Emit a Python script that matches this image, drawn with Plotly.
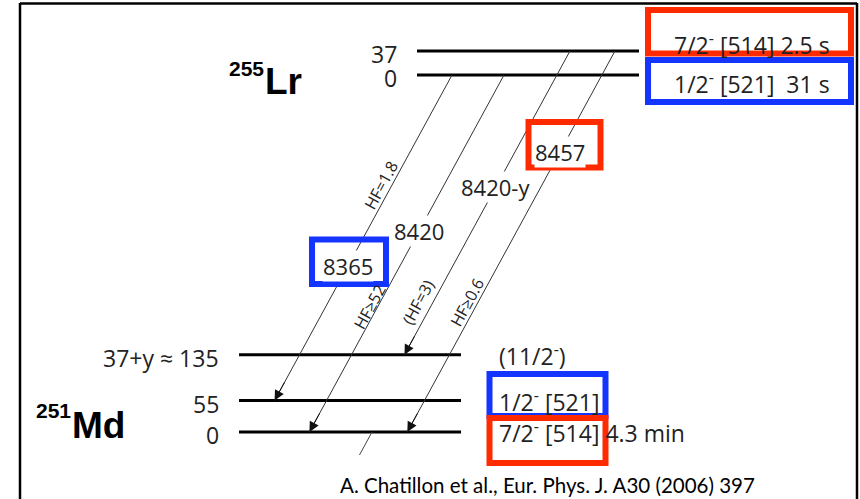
import plotly.graph_objects as go

# ---------------- data ----------------
lr_energies = [0, 37]                       # keV, 255Lr levels
lr_level_labels = ["0", "37"]
lr_spins = ["1/2<sup>-</sup> [521]\u00a0\u00a031 s", "7/2<sup>-</sup> [514] 2.5 s"]

md_energies = [0, 55, 135]                  # keV, 251Md levels
md_level_labels = ["0", "55", "37+y ≈ 135"]
md_spins = ["7/2<sup>-</sup> [514] 4.3 min", "1/2<sup>-</sup> [521]", "(11/2<sup>-</sup>)"]

alpha_from = [0, 0, 1, 1]                   # index into lr levels
alpha_to = [1, 0, 2, 0]                     # index into md levels
alpha_energies = ["8365", "8420", "8420-y", "8457"]
hindrance = ["HF=1.8", "HF≥52", "(HF=3)", "HF≥0.6"]
citation = "A. Chatillon et al., Eur. Phys. J. A30 (2006) 397"

# ---------------- layout constants (pixel canvas) ----------------
W, H = 860, 499
SLOPE = 0.545                                # dx per dy of alpha lines
LR_BASE, LR_SCALE = 75, 0.65
MD_BASE, MD_SCALE = 432, 0.5725
LR_X = (417, 639)
MD_X = (239, 461)
alpha_x0 = [452, 504, 570, 615]              # start x on the Lr level
label_y = [266, 231, 187, 152]               # y of energy label on each line
hf_y = [185, 307, 302, 302]                  # y of HF label
hf_off = [11, 8, 15, 11]                     # left offset of HF label
RED = "#ff2a00"
BLUE = "#1434ff"
TXT = "#222222"
LFONT = "Open Sans"
FS = 23


def y_lr(e):
    return LR_BASE - LR_SCALE * e


def y_md(e):
    return MD_BASE - MD_SCALE * e


def x_on(i, y):
    y0 = y_lr(lr_energies[alpha_from[i]])
    return alpha_x0[i] - SLOPE * (y - y0)


fig = go.Figure()

# level lines
for e in lr_energies:
    fig.add_trace(go.Scatter(x=list(LR_X), y=[y_lr(e)] * 2, mode="lines",
                             line=dict(color="black", width=3), hoverinfo="skip"))
for e in md_energies:
    fig.add_trace(go.Scatter(x=list(MD_X), y=[y_md(e)] * 2, mode="lines",
                             line=dict(color="black", width=3), hoverinfo="skip"))

# stub continuing below the 251Md ground state
stub_y = [y_md(md_energies[0]), y_md(md_energies[0]) + 23]
fig.add_trace(go.Scatter(x=[372, 372 - SLOPE * 23], y=stub_y, mode="lines",
                         line=dict(color="#444", width=1), hoverinfo="skip"))

annos = []

# alpha transitions: line trace + arrowhead annotation at the end
for i in range(len(alpha_from)):
    ys = y_lr(lr_energies[alpha_from[i]])
    ye = y_md(md_energies[alpha_to[i]])
    xe = x_on(i, ye)
    fig.add_trace(go.Scatter(
        x=[alpha_x0[i], xe], y=[ys, ye], mode="lines",
        line=dict(color="#333", width=1), hoverinfo="skip"))
    annos.append(dict(x=xe, y=ye, ax=x_on(i, ye - 20), ay=ye - 20,
                      xref="x", yref="y", axref="x", ayref="y", text="",
                      showarrow=True, arrowhead=2, arrowsize=2.0, arrowwidth=1,
                      arrowcolor="#111", standoff=0))

# shapes: frame and coloured boxes
shapes = [
    dict(type="line", x0=20, y0=3, x1=20, y1=H, line=dict(color="black", width=2.5)),
    dict(type="line", x0=20, y0=3.5, x1=857, y1=3.5, line=dict(color="black", width=2.5)),
    dict(type="line", x0=857, y0=3, x1=857, y1=H, line=dict(color="black", width=2.5)),
    # top right
    dict(type="rect", x0=648, x1=851, y0=10, y1=53.5, line=dict(color=RED, width=6)),
    dict(type="rect", x0=648, x1=851, y0=60, y1=102, line=dict(color=BLUE, width=6)),
    # energy boxes
    dict(type="rect", x0=528.5, x1=600.5, y0=122, y1=167.5, line=dict(color=RED, width=6)),
    dict(type="rect", x0=312, x1=386, y0=239.5, y1=284, line=dict(color=BLUE, width=6)),
    # Md boxes
    dict(type="rect", x0=489.5, x1=605.5, y0=374, y1=416, line=dict(color=BLUE, width=6)),
    dict(type="rect", x0=489.5, x1=605.5, y0=418, y1=463, line=dict(color=RED, width=6)),
]
for s in shapes:
    s.update(xref="x", yref="y", layer="above")

# energy labels on the lines (white background breaks the line)
for i in range(len(alpha_energies)):
    annos.append(dict(x=x_on(i, label_y[i]), y=label_y[i], text=alpha_energies[i],
                      showarrow=False, bgcolor="white", borderpad=0,
                      font=dict(family=LFONT, size=22, color=TXT)))

# hindrance factor labels along the lines
for i in range(len(hindrance)):
    annos.append(dict(x=x_on(i, hf_y[i]) - hf_off[i], y=hf_y[i], text=hindrance[i],
                      showarrow=False, textangle=-61.5,
                      font=dict(family=LFONT, size=16, color=TXT)))

# level energy labels
for e, lab in zip(lr_energies, lr_level_labels):
    annos.append(dict(x=398, y=y_lr(e) + 3, text=lab, xanchor="right", showarrow=False,
                      borderpad=0, font=dict(family=LFONT, size=FS, color=TXT)))
for e, lab in zip(md_energies, md_level_labels):
    annos.append(dict(x=220, y=y_md(e) + 3, text=lab, xanchor="right", showarrow=False,
                      borderpad=0, font=dict(family=LFONT, size=FS, color=TXT)))

# spin / configuration labels
lr_spin_y = [83, 44]
for s, yy in zip(lr_spins, lr_spin_y):
    annos.append(dict(x=672, y=yy, text=s, xanchor="left", showarrow=False,
                      font=dict(family=LFONT, size=FS, color=TXT)))
for e, s in zip(md_energies, md_spins):
    annos.append(dict(x=497, y=y_md(e), text=s, xanchor="left", showarrow=False,
                      font=dict(family=LFONT, size=FS, color=TXT)))

# nucleus names
nuc = [("255", "Lr", 266, 68, 263, 81), ("251", "Md", 73, 410, 70, 425)]
for mass, sym, mx, my, sx, sy in nuc:
    annos.append(dict(x=mx, y=my, text=mass, xanchor="right", showarrow=False,
                      font=dict(family="Liberation Sans", size=21, color="black", weight="bold")))
    annos.append(dict(x=sx, y=sy, text=sym, xanchor="left", showarrow=False,
                      font=dict(family="Liberation Sans", size=37, color="black", weight="bold")))

annos.append(dict(x=547, y=485, text=citation, showarrow=False,
                  font=dict(family="Lato", size=20.5, color="black")))

fig.update_layout(
    width=W, height=H, margin=dict(l=0, r=0, t=0, b=0),
    paper_bgcolor="white", plot_bgcolor="white", showlegend=False,
    xaxis=dict(range=[0, W], visible=False, fixedrange=True),
    yaxis=dict(range=[H, 0], visible=False, fixedrange=True),
    shapes=shapes, annotations=annos,
)
fig.write_html("out.html")
